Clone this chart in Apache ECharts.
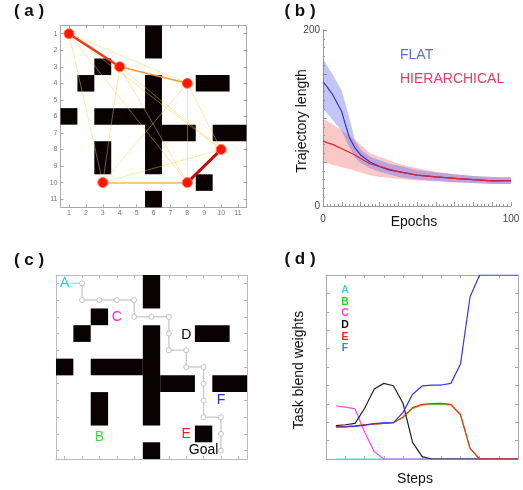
<!DOCTYPE html>
<html><head><meta charset="utf-8">
<script src="https://cdn.jsdelivr.net/npm/echarts@6/dist/echarts.min.js"></script>
<style>html,body{margin:0;padding:0;background:#fff}#c{width:523px;height:490px}</style>
</head><body><div id="c"></div><script>
// ---------- data ----------
// maze blocks: [colStart, colEnd, rowStart, rowEnd]
const mazeBlocks = [
  [6,6,1,2],[3,3,3,3],[2,2,4,4],[6,6,4,9],[9,10,4,4],[1,1,6,6],
  [3,5,6,6],[7,8,7,7],[10,11,7,7],[3,3,8,9],[9,9,10,10],[6,6,11,11]
];
const gridTicks = [1,2,3,4,5,6,7,8,9,10,11];
// panel (a) nodes & edges
const nodeNames = ['A','B','C','D','E','F'];
const nodeX = [1,3,4,8,8,10];
const nodeY = [1,10,3,4,10,8];
const edgeFrom   = ['A','A','A','A','C','C','C','D','D','D','B','A','C','F','B'];
const edgeTo     = ['D','F','E','B','B','E','F','F','E','B','F','C','D','E','E'];
const edgeWeight = [0.1,0.1,0.1,0.1,0.1,0.1,0.1,0.1,0.1,0.1,0.1,0.75,0.45,0.9,0.3];
// panel (b)
const epochs   = [0,2,5,10,12,14,17,20,25,30,35,40,50,60,70,80,90,100];
const flatMean = [141,136,127,107,92,78,66,58,50,45,41,39,35,33,31.5,30,28.5,29];
const flatUp   = [168,160,150,131,115,100,75,64,56,52,48,46,41,38,36,34,33,33];
const flatLo   = [111,106,98,85,76,67,55,49,43,39,36,33,30,28.5,27,26,25,25];
const hierMean = [74,72,70,65,63,61,58,54,48,45,42,39,35,33,31.5,30,28.5,28.5];
const hierUp   = [99,97,93,86,83,80,75,70,60,56,52,48,43,39,36,34,33,32];
const hierLo   = [50,49,47,44,43,42,40,38,35,33,32,31,29,28,27,26,25,25];
// panel (c)
const pathX = [1,2,2,3,4,5,5,6,7,7,7,8,8,9,9,9,9,10,10,10];
const pathY = [1,1,2,2,2,2,3,3,3,4,5,5,6,6,7,8,9,9,10,11];
const taskLabels = ['A','B','C','D','E','F','Goal'];
const taskLabelX = [1,3,4,8,8,10,9];
const taskLabelY = [1,10.2,3,4.1,10,8,11];
// panel (d)
const steps = [1,2,3,4,5,6,7,8,9,10,11,12,13,14,15,16,17,18,19,20];
const wA = [0,0,0,0,0,0,0,0,0,0,0,0,0,0,0,0,0,0,0,0];
const wB = [0.176,0.176,0.18,0.185,0.19,0.194,0.197,0.224,0.274,0.292,0.297,0.298,0.293,0.238,0.056,0,0,0,0,0];
const wC = [0.288,0.282,0.272,0.145,0.04,0,0,0,0,0,0,0,0,0,0,0,0,0,0,0];
const wD = [0.181,0.186,0.194,0.276,0.38,0.411,0.398,0.303,0.09,0.013,0,0,0,0,0,0,0,0,0,0];
const wE = [0.176,0.176,0.18,0.185,0.19,0.194,0.197,0.228,0.279,0.297,0.301,0.302,0.297,0.242,0.058,0,0,0,0,0];
const wF = [0.174,0.174,0.177,0.184,0.193,0.196,0.198,0.252,0.352,0.397,0.402,0.402,0.411,0.516,0.882,1,1,1,1,1];

// ---------- helpers ----------
const FONT = 'Liberation Sans, Arial, sans-serif';
const zip = (a,b) => a.map((v,i)=>[v,b[i]]);
function frameAxis(gridIndex, position, min, max, o) {
  o = o || {};
  const col = o.color || '#aaa';
  const a = {
    type:'value', gridIndex, position, min, max,
    inverse: !!o.inverse,
    axisLine:{show:true, onZero:false, lineStyle:{color:col, width:1}},
    axisTick:{show:true, inside:true, length:o.tickLen||3, lineStyle:{color:col}},
    axisLabel:{show:false},
    splitLine:{show:false}
  };
  if (o.interval) a.interval = o.interval;
  if (o.tickValues) a.axisTick.customValues = o.tickValues;
  if (o.labels) a.axisLabel = Object.assign({show:true, fontFamily:FONT}, o.labels);
  if (o.minor) a.minorTick = Object.assign({show:true, lineStyle:{color:col}}, o.minor);
  return a;
}
function edgeStyle(w) {
  if (w >= 0.85) return {color:'#c40a0a', width:3, opacity:1};
  if (w >= 0.7)  return {color:'#ea3a16', width:2.5, opacity:1};
  if (w >= 0.4)  return {color:'#f39a3a', width:1.6, opacity:1};
  if (w >= 0.25) return {color:'#fbc880', width:2.2, opacity:1};
  return {color:'rgba(250,200,60,0.45)', width:1, opacity:1};
}
function blockRender(params, api) {
  const x0 = api.value(0), x1 = api.value(1), y0 = api.value(2), y1 = api.value(3);
  const p0 = api.coord([x0-0.5, y0-0.5]);
  const p1 = api.coord([x1+0.5, y1+0.5]);
  return {type:'rect', shape:{x:Math.min(p0[0],p1[0]), y:Math.min(p0[1],p1[1]),
    width:Math.abs(p1[0]-p0[0]), height:Math.abs(p1[1]-p0[1])},
    style:{fill:'#0a0202'}};
}
function mazeSeries(xi, yi) {
  return {type:'custom', xAxisIndex:xi, yAxisIndex:yi, renderItem:blockRender,
    data:mazeBlocks, encode:{x:[0,1], y:[2,3]}, z:1, silent:true};
}
const idx = n => nodeNames.indexOf(n);
const edgeOrder = edgeWeight.map((w,i)=>i).sort((a,b)=>edgeWeight[a]-edgeWeight[b]);
const edgeData = edgeOrder.map(i => ({
  coords:[[nodeX[idx(edgeFrom[i])], nodeY[idx(edgeFrom[i])]], [nodeX[idx(edgeTo[i])], nodeY[idx(edgeTo[i])]]],
  lineStyle: edgeStyle(edgeWeight[i])
}));
const labelColors = ['#14d8ec','#3ddd3d','#ff22ee','#000','#ff2222','#2a2aee','#000'];
const legendColors = ['#33dddd','#22dd22','#ff44dd','#111','#ff2020','#4a80c0'];
const lineColors = ['#33e6ee','#33ee33','#ff44ff','#222','#ff2a1a','#3535ee'];
const dSeries = [wA,wB,wC,wD,wE,wF];

// ---------- option ----------
const grids = [
  {left:60.5, top:25.4, width:186, height:182},
  {left:323, top:30, width:188, height:176},
  {left:56, top:275, width:191, height:184},
  {left:326.3, top:275, width:191.7, height:184}
].map(g => Object.assign({outerBoundsMode:'none', containLabel:false}, g));

const xAxes = [
  frameAxis(0,'bottom',0.5,11.5,{tickValues:gridTicks, labels:{customValues:gridTicks, fontSize:7, color:'#777', margin:2}}),
  frameAxis(0,'top',0.5,11.5,{tickValues:gridTicks}),
  frameAxis(1,'bottom',0,100,{color:'#999', interval:10, tickLen:4, minor:{splitNumber:5, length:2},
     labels:{customValues:[0,100], fontSize:10, color:'#444', margin:8}}),
  frameAxis(2,'bottom',0.5,11.5,{color:'#bbb', tickValues:gridTicks}),
  frameAxis(2,'top',0.5,11.5,{color:'#bbb', tickValues:gridTicks}),
  frameAxis(3,'bottom',0,20,{interval:2}),
  frameAxis(3,'top',0,20,{interval:2})
];
const yAxes = [
  frameAxis(0,'left',0.5,11.5,{inverse:true, tickValues:gridTicks, labels:{customValues:gridTicks, fontSize:7, color:'#777', margin:3}}),
  frameAxis(0,'right',0.5,11.5,{inverse:true, tickValues:gridTicks}),
  frameAxis(1,'left',0,200,{color:'#999', interval:50, tickLen:4, minor:{splitNumber:5, length:2},
     labels:{customValues:[0,200], fontSize:10, color:'#444', margin:3}}),
  frameAxis(2,'left',0.5,11.5,{color:'#bbb', inverse:true, tickValues:gridTicks}),
  frameAxis(2,'right',0.5,11.5,{color:'#bbb', inverse:true, tickValues:gridTicks}),
  frameAxis(3,'left',0,1,{interval:0.1}),
  frameAxis(3,'right',0,1,{interval:0.1})
];
// axis index pairs per panel
const AX = {a:[0,0], b:[2,2], c:[3,3], d:[5,5]};

const series = [];
// (a)
series.push(mazeSeries(AX.a[0],AX.a[1]));
series.push({type:'lines', coordinateSystem:'cartesian2d', xAxisIndex:AX.a[0], yAxisIndex:AX.a[1],
  data:edgeData, lineStyle:{opacity:1}, z:2, silent:true});
series.push({type:'scatter', xAxisIndex:AX.a[0], yAxisIndex:AX.a[1], data:zip(nodeX,nodeY), symbolSize:10,
  itemStyle:{color:'#ff1500', borderColor:'#ff7a50', borderWidth:1, opacity:1}, z:3});
// (b) bands drawn as polygons through the axes
function band(lo, up, color) {
  return {type:'custom', xAxisIndex:AX.b[0], yAxisIndex:AX.b[1], silent:true, z:2,
    data: epochs.map((x,i)=>[x, lo[i], up[i]]), encode:{x:0, y:[1,2]},
    renderItem: (params, api) => {
      if (params.dataIndex !== 0) return null;
      const pts = [];
      for (let i = 0; i < epochs.length; i++) pts.push(api.coord([epochs[i], up[i]]));
      for (let i = epochs.length-1; i >= 0; i--) pts.push(api.coord([epochs[i], lo[i]]));
      return {type:'polygon', shape:{points:pts}, style:{fill:color}};
    }};
}
series.push(band(hierLo, hierUp, 'rgba(245,110,110,0.38)'));
series.push(band(flatLo, flatUp, 'rgba(100,110,235,0.40)'));
series.push({type:'line', xAxisIndex:AX.b[0], yAxisIndex:AX.b[1], data:zip(epochs,flatMean), symbol:'none',
  lineStyle:{color:'#3434e0', width:1.2}, z:4});
series.push({type:'line', xAxisIndex:AX.b[0], yAxisIndex:AX.b[1], data:zip(epochs,hierMean), symbol:'none',
  lineStyle:{color:'#e8202c', width:1.2}, z:5});
// (c)
series.push(mazeSeries(AX.c[0],AX.c[1]));
series.push({type:'line', xAxisIndex:AX.c[0], yAxisIndex:AX.c[1],
  data:pathX.map((x,i)=> i===0 ? {value:[x,pathY[i]], symbol:'none'} : [x,pathY[i]]),
  symbol:'circle', symbolSize:5, showAllSymbol:true,
  lineStyle:{color:'#cfcfcf', width:1.5}, itemStyle:{color:'#fff', borderColor:'#c4c4c4', borderWidth:1}, z:2});
series.push({type:'scatter', xAxisIndex:AX.c[0], yAxisIndex:AX.c[1], symbolSize:1, itemStyle:{color:'rgba(0,0,0,0)'}, z:6,
  data: taskLabels.map((t,i)=>{
     const lab = {color:labelColors[i]};
     if (i === 0) { lab.backgroundColor = '#fff'; lab.padding = [0,1]; }
     return {value:[taskLabelX[i], taskLabelY[i]], name:t, label:lab};
  }),
  label:{show:true, position:'inside', formatter:p=>p.name, fontSize:14, fontFamily:FONT,
    textBorderWidth:0, textShadowBlur:0, opacity:1}});
// (d)
dSeries.forEach((arr,k)=>{
  series.push({type:'line', xAxisIndex:AX.d[0], yAxisIndex:AX.d[1], data:zip(steps,arr), symbol:'none',
    lineStyle:{color:lineColors[k], width:1.2}, z:2+k});
});

function txt(t, x, y, o) {
  o = o || {};
  return {type:'text', x, y, rotation:o.rot||0, z:100,
    style:{text:t, fill:o.color||'#111', font:(o.weight||'normal')+' '+(o.size||14)+'px '+FONT,
      textAlign:o.align||'center', textVerticalAlign:'middle', align:o.align||'center', verticalAlign:'middle'}};
}
const legendY0 = 290, legendDY = 11.7;
const graphics = [
  txt('( a )', 29, 11, {weight:'bold', size:17}),
  txt('( b )', 300, 11, {weight:'bold', size:17}),
  txt('( c )', 29, 260, {weight:'bold', size:17}),
  txt('( d )', 300, 259, {weight:'bold', size:17}),
  txt('Trajectory length', 302, 121, {rot:Math.PI/2, size:14}),
  txt('Epochs', 414, 222, {size:14}),
  txt('FLAT', 400, 55, {align:'left', size:14, color:'#5870da'}),
  txt('HIERARCHICAL', 400, 79, {align:'left', size:14, color:'#f0386a'}),
  txt('Task blend weights', 299, 370, {rot:Math.PI/2, size:14}),
  txt('Steps', 415, 479, {size:14})
];
nodeNames.forEach((n,k)=> graphics.push(txt(n, 345, legendY0 + k*legendDY, {weight:'bold', size:10.5, color:legendColors[k]})));

const chart = echarts.init(document.getElementById('c'), null, {renderer:'canvas'});
chart.setOption({
  animation:false,
  backgroundColor:'#fff',
  textStyle:{fontFamily:FONT},
  grid:grids, xAxis:xAxes, yAxis:yAxes, series, graphic:graphics
});
</script></body></html>
